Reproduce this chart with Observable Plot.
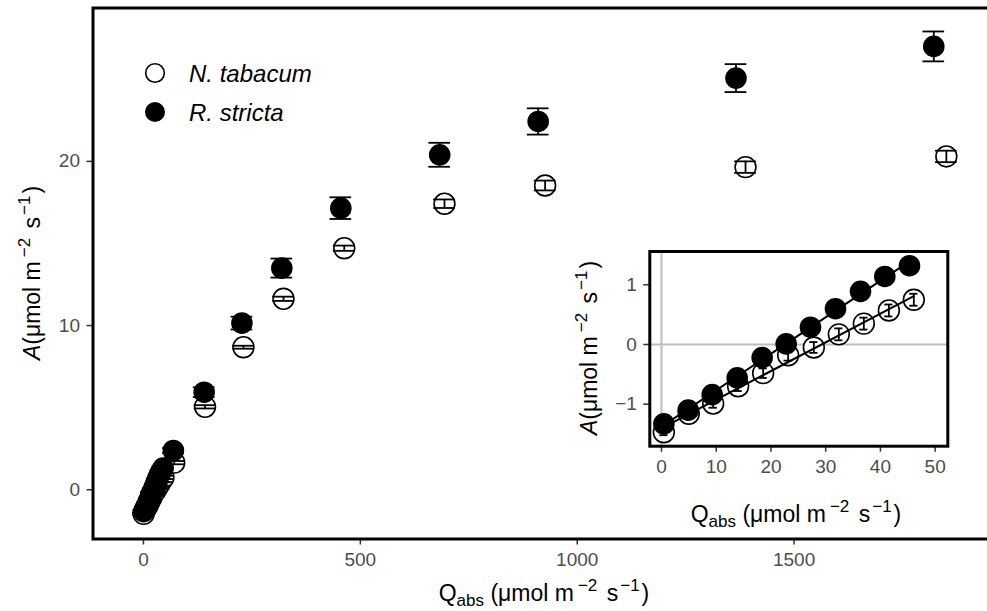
<!DOCTYPE html>
<html>
<head>
<meta charset="utf-8">
<script src="https://cdn.jsdelivr.net/npm/d3@7"></script>
<script src="https://cdn.jsdelivr.net/npm/@observablehq/plot@0.6"></script>
<style>
  html, body { margin: 0; padding: 0; background: #fff; overflow: hidden; }
  #fig { position: relative; width: 987px; height: 611px; overflow: hidden;
         font-family: "Liberation Sans", Arial, sans-serif; }
  #fig > svg { position: absolute; max-width: none !important; }
</style>
</head>
<body>
<div id="fig"></div>
<script>
// Light response of net assimilation, two species (mean ± s.e.)
const species = ["N. tabacum", "R. stricta"];

// R. stricta (filled symbols)
const qStricta  = [0.43, 4.87, 9.26, 13.83, 18.39, 22.78, 27.22, 31.79, 36.36, 40.8, 45.31,
                   69, 140, 227, 319, 455, 683, 910, 1366, 1822];
const aStricta  = [-1.33, -1.10, -0.84, -0.56, -0.22, 0.01, 0.29, 0.60, 0.89, 1.14, 1.32,
                   2.39, 5.94, 10.15, 13.5, 17.15, 20.40, 22.43, 25.07, 27.0];
const seStricta = [0.08, 0.08, 0.08, 0.08, 0.08, 0.08, 0.08, 0.08, 0.08, 0.08, 0.08,
                   0.15, 0.3, 0.39, 0.58, 0.66, 0.73, 0.8, 0.85, 0.91];

// N. tabacum (open symbols)
const qTabacum  = [0.43, 4.99, 9.44, 14.0, 18.57, 23.14, 27.83, 32.4, 36.97, 41.54, 46.1,
                   71, 142, 230.6, 322.9, 462.9, 694, 926, 1388, 1851];
const aTabacum  = [-1.47, -1.16, -0.99, -0.70, -0.48, -0.18, -0.05, 0.17, 0.35, 0.57, 0.75,
                   1.65, 5.05, 8.68, 11.63, 14.71, 17.42, 18.53, 19.65, 20.3];
const seTabacum = [0.05, 0.06, 0.07, 0.08, 0.08, 0.09, 0.09, 0.1, 0.1, 0.1, 0.1,
                   0.1, 0.1, 0.09, 0.13, 0.16, 0.26, 0.3, 0.35, 0.35];

const mainXTicks = [0, 500, 1000, 1500];
const mainYTicks = [0, 10, 20];
const insetXTicks = [0, 10, 20, 30, 40, 50];
const insetYTicks = [-1, 0, 1];
const insetMaxQ = 50;   // low-light points shown in the inset

const rows = (q, a, se, sp) => q.map((v, i) => ({q: v, a: a[i], se: se[i], species: sp}));
const tabacum = rows(qTabacum, aTabacum, seTabacum, species[0]);
const stricta = rows(qStricta, aStricta, seStricta, species[1]);
const tabacumLow = tabacum.filter(d => d.q < insetMaxQ);
const strictaLow = stricta.filter(d => d.q < insetMaxQ);

const FONT = '"Liberation Sans", Arial, sans-serif';
const TICK_FS = 19, TITLE_FS = 23, SCRIPT_FS = 17, LEGEND_FS = 24;
const plainNumber = d => (d < 0 ? "\u2212" : "") + String(Math.abs(d));

function errorBars(data, halfWidth) {
  const o = {stroke: "black", strokeWidth: 1.8};
  return [
    Plot.ruleX(data, {x: "q", y1: d => d.a - d.se, y2: d => d.a + d.se, ...o}),
    Plot.ruleY(data, {y: d => d.a - d.se, x1: d => d.q - halfWidth, x2: d => d.q + halfWidth, ...o}),
    Plot.ruleY(data, {y: d => d.a + d.se, x1: d => d.q - halfWidth, x2: d => d.q + halfWidth, ...o})
  ];
}

function axes(xTicks, yTicks) {
  const o = {tickSize: 6, tickPadding: 7, strokeWidth: 1.5, stroke: "#333333",
             fill: "#4d4d4d", fontSize: TICK_FS, label: null, tickFormat: plainNumber};
  return [
    Plot.axisX({ticks: xTicks, ...o}),
    Plot.axisY({ticks: yTicks, ...o})
  ];
}

// Unit label: lead (optionally italic / subscripted) then (μmol m⁻² s⁻¹)
function unitTitle(g, x, y, rotate, lead, leadSub, italic) {
  const t = g.append("text")
    .attr("transform", `translate(${x},${y})` + (rotate ? " rotate(-90)" : ""))
    .attr("text-anchor", "middle")
    .attr("font-family", FONT).attr("font-size", TITLE_FS).attr("fill", "black");
  t.append("tspan").attr("font-style", italic ? "italic" : null).text(lead);
  if (leadSub) {
    t.append("tspan").attr("font-size", SCRIPT_FS).attr("dy", 5).text(leadSub);
    t.append("tspan").attr("dy", -5).text(" (μmol m");
  } else {
    t.append("tspan").text("(μmol m");
  }
  t.append("tspan").attr("font-size", SCRIPT_FS).attr("dy", -10).attr("dx", 4).text("−2");
  t.append("tspan").attr("dy", 10).attr("dx", 3).text(" s");
  t.append("tspan").attr("font-size", SCRIPT_FS).attr("dy", -10).attr("dx", 2).text("−1");
  t.append("tspan").attr("dy", 10).attr("dx", 2).text(")");
}

// ---- main panel ----
const main = Plot.plot({
  width: 996, height: 611,
  marginLeft: 92.5, marginRight: 0, marginTop: 7.5, marginBottom: 72.5,
  style: {fontFamily: FONT, background: "transparent", overflow: "visible"},
  x: {domain: [-116.3, 1966.6]},
  y: {domain: [-3.0, 29.34]},
  marks: [
    Plot.dot(tabacum, {x: "q", y: "a", r: 10.4, fill: "white", stroke: "black", strokeWidth: 1.6}),
    Plot.dot(stricta, {x: "q", y: "a", r: 10.8, fill: "black"}),
    ...errorBars(tabacum, 25),
    ...errorBars(stricta, 25),
    ...axes(mainXTicks, mainYTicks),
    Plot.frame({stroke: "black", strokeWidth: 3})
  ]
});
main.style.left = "0px"; main.style.top = "0px";
document.getElementById("fig").appendChild(main);

const gm = d3.select(main);
unitTitle(gm, 544, 601, false, "Q", "abs", false);
unitTitle(gm, 40, 273, true, "A", null, true);

// legend
const legend = gm.append("g").attr("font-family", FONT).attr("text-anchor", "start");
const legendItems = [
  {label: species[0], fill: "white"},
  {label: species[1], fill: "black"}
];
legendItems.forEach((it, i) => {
  const cy = 73 + i * 39;
  legend.append("circle").attr("cx", 155).attr("cy", cy).attr("r", it.fill === "white" ? 9.3 : 10)
    .attr("fill", it.fill).attr("stroke", "black").attr("stroke-width", it.fill === "white" ? 1.6 : 0);
  legend.append("text").attr("x", 189).attr("y", cy + 8.5).attr("text-anchor", "start")
    .attr("font-size", LEGEND_FS).attr("font-style", "italic").attr("fill", "black").text(it.label);
});

// ---- inset: low-light region with linear fits ----
const inset = Plot.plot({
  width: 440, height: 300,
  marginLeft: 109.3, marginRight: 32.7, marginTop: 21, marginBottom: 84.3,
  style: {fontFamily: FONT, background: "transparent", overflow: "visible"},
  x: {domain: [-2.138, 52.31]},
  y: {domain: [-1.704, 1.558]},
  marks: [
    Plot.frame({fill: "white"}),
    Plot.ruleX([0], {stroke: "#bebebe", strokeWidth: 2}),
    Plot.ruleY([0], {stroke: "#bebebe", strokeWidth: 2}),
    Plot.dot(tabacumLow, {x: "q", y: "a", r: 10.4, fill: "white", stroke: "black", strokeWidth: 1.6}),
    Plot.dot(strictaLow, {x: "q", y: "a", r: 10.8, fill: "black"}),
    ...errorBars(tabacumLow, 0.75),
    ...errorBars(strictaLow, 0.75),
    Plot.linearRegressionY(tabacumLow, {x: "q", y: "a", ci: 0, stroke: "black", strokeWidth: 2}),
    Plot.linearRegressionY(strictaLow, {x: "q", y: "a", ci: 0, stroke: "black", strokeWidth: 2}),
    ...axes(insetXTicks, insetYTicks),
    Plot.frame({stroke: "black", strokeWidth: 3})
  ]
});
inset.style.left = "540px"; inset.style.top = "230px";
document.getElementById("fig").appendChild(inset);

const gi = d3.select(inset);
unitTitle(gi, 256, 292, false, "Q", "abs", false);
unitTitle(gi, 57, 118, true, "A", null, true);
</script>
</body>
</html>
